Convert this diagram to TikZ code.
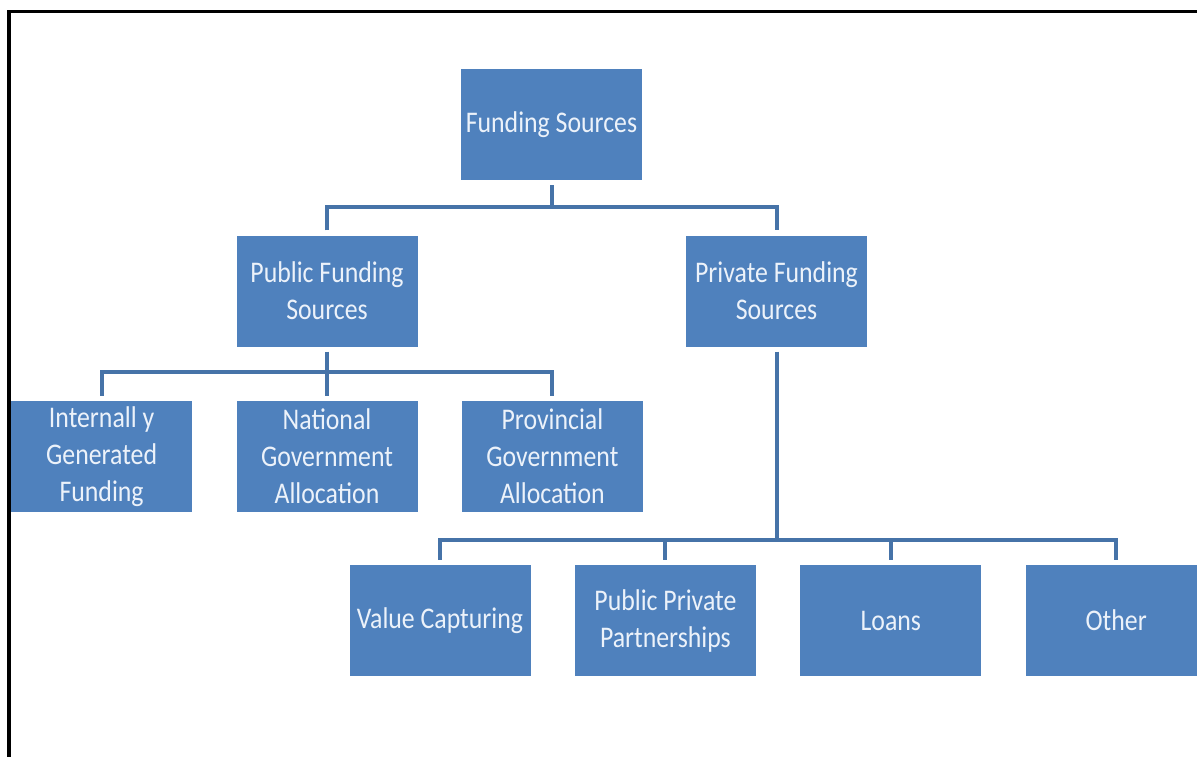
\documentclass[tikz,border=0pt]{standalone}
\usepackage{fontspec}
\setmainfont[FakeStretch=0.86]{Carlito}
\usepackage{xcolor}
\usetikzlibrary{positioning}

\definecolor{boxblue}{RGB}{79,129,189}
\definecolor{linkblue}{RGB}{70,115,168}
\definecolor{boxtext}{RGB}{236,242,250}

\begin{document}
\begin{tikzpicture}[
  x=1pt, y=-1pt,
  font=\fontsize{30}{37}\selectfont,
  node distance=44pt,
  box/.style  ={fill=boxblue,text=boxtext,align=center,inner sep=0pt,
                minimum width=181pt,minimum height=111pt},
  link/.style ={draw=linkblue,line width=4pt,line join=miter}]

\useasboundingbox (0,0) rectangle (1197,756);

% ---------- frame ----------
\draw[line width=3.5pt] (9,760) -- (9,10);
\draw[line width=2.5pt] (7.5,11.3) -- (1200,11.3);

% ---------- Row 1 : root ----------
\node[box] (fs) at (551.5,124.5) {Funding Sources};

% ---------- Row 2 : public / private ----------
\node[box] (pub) at (327,291) {Public Funding\\Sources};
\node[box] (prv) at (776.5,291) {Private Funding\\Sources};

% ---------- Row 3 : public sources ----------
\node[box] (nat) at (327,456.5) {National\\Government\\Allocation};
\node[box, left=of nat]  (int)  {Internall y\\Generated\\Funding};
\node[box, right=of nat] (prov) {Provincial\\Government\\Allocation};

% ---------- Row 4 : private sources ----------
\node[box] (val) at (440,620.5) {Value Capturing};
\node[box, right=of val] (ppp)   {Public Private\\Partnerships};
\node[box, right=of ppp] (loans) {Loans};
\node[box, right=of loans] (oth) {Other};

% ---------- connectors ----------
\coordinate (j1) at (551.5,207);
\coordinate (j2) at (327,372);
\coordinate (j3) at (776.5,540);

\draw[link] ([yshift=-5pt]fs.south) -- (j1);
\draw[link] ([yshift=5pt]pub.north) |- (j1) -| ([yshift=5pt]prv.north);

\draw[link] ([yshift=-5pt]pub.south) -- (j2);
\draw[link] ([yshift=5pt]int.north) |- (j2) -| ([yshift=5pt]prov.north);
\draw[link] (j2) -- ([yshift=5pt]nat.north);

\draw[link] ([yshift=-5pt]prv.south) -- (j3);
\draw[link] ([yshift=5pt]val.north) |- (j3) -| ([yshift=5pt]oth.north);
\draw[link] (ppp.north |- j3) -- ([yshift=5pt]ppp.north);
\draw[link] (loans.north |- j3) -- ([yshift=5pt]loans.north);

\end{tikzpicture}
\end{document}
